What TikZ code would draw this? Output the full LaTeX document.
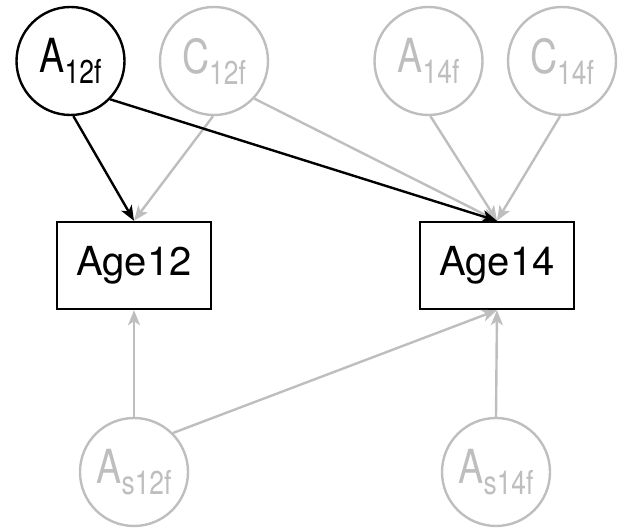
\documentclass[tikz,border=0pt]{standalone}
\usepackage{fontspec}
\setmainfont{TeX Gyre Heros}
\usetikzlibrary{arrows.meta}
\definecolor{lite}{RGB}{190,190,190}
\newcommand{\clab}[2]{\scalebox{0.8}[1]{{\fontsize{47}{47}\selectfont #1}\raisebox{-11pt}{\fontsize{33}{33}\selectfont #2}}}
\tikzset{
  latent/.style={circle, draw, line width=2.4pt, minimum size=108pt, inner sep=0pt},
  faded/.style={draw=lite, text=lite},
  obs/.style={rectangle, draw, line width=2.4pt, minimum width=154pt, minimum height=87pt, inner sep=0pt, font=\fontsize{40}{40}\selectfont},
  edge/.style={line width=2.4pt, -{Stealth[length=15pt, width=12pt, inset=4pt]}},
  fedge/.style={edge, draw=lite, fill=lite},
}
\begin{document}
\begin{tikzpicture}[x=1pt,y=1pt]
\useasboundingbox (0,0) rectangle (626,529);
\node[latent] (A12) at (70.5,468) {\clab{A}{12f}};
\node[latent,faded] (C12) at (214,468) {\clab{C}{12f}};
\node[latent,faded] (A14) at (428.5,468) {\clab{A}{14f}};
\node[latent,faded] (C14) at (562,468) {\clab{C}{14f}};
\node[obs] (Age12) at (134,263.5) {Age12};
\node[obs] (Age14) at (497,263.5) {Age14};
\node[latent,faded] (As12) at (134,57) {\clab{A}{s12f}};
\node[latent,faded] (As14) at (496,57) {\clab{A}{s14f}};
% gray edges first
\draw[fedge] (C12.-91) -- (Age12.north);
\draw[fedge] (C12.-43) -- (Age14.north);
\draw[fedge] (A14.-88) -- (Age14.north);
\draw[fedge] (C14.-92) -- (Age14.north);
\draw[fedge] (As12.north) -- (Age12.south);
\draw[fedge] (As12.45) -- (Age14.south);
\draw[fedge] (As14.north) -- (Age14.south);
% black edges
\draw[edge] (A12.-87) -- (Age12.north);
\draw[edge] (A12.-44) -- (Age14.north);
\end{tikzpicture}
\end{document}
